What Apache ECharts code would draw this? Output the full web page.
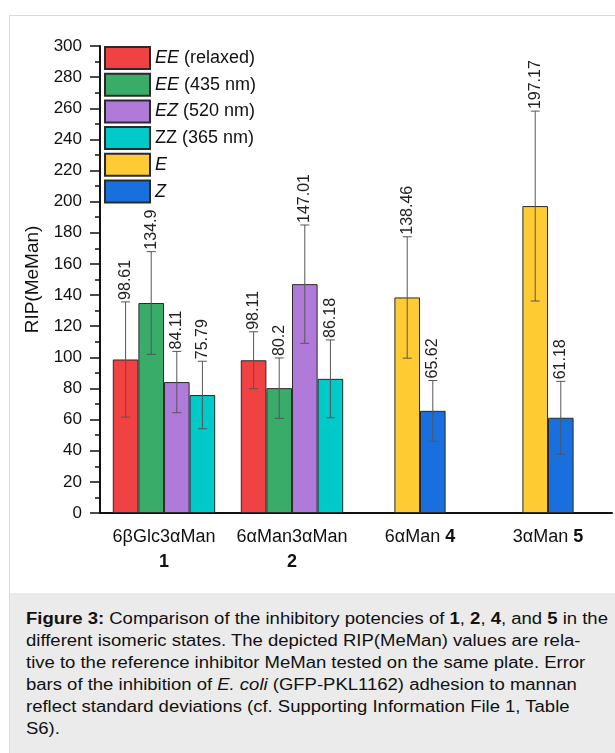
<!DOCTYPE html>
<html><head><meta charset="utf-8">
<script src="https://cdn.jsdelivr.net/npm/echarts@6/dist/echarts.min.js"></script>
<style>
html,body{margin:0;padding:0;background:#fff;}
#frame{position:absolute;left:9px;top:15px;width:620px;height:740px;border:1px solid #dadada;box-sizing:border-box;}
#cap{position:absolute;left:10px;top:593px;width:615px;height:160px;background:#ebebeb;}
#capText{position:absolute;left:16px;top:15px;font-family:"Liberation Sans",Arial,sans-serif;font-size:16px;line-height:22px;color:#111;white-space:nowrap;transform:scaleX(1.156);transform-origin:0 0;}
#chart{position:absolute;left:0;top:0;width:615px;height:593px;}
</style></head>
<body>
<div id="frame"></div>
<div id="cap"><div id="capText"><b>Figure 3:</b> Comparison of the inhibitory potencies of <b>1</b>, <b>2</b>, <b>4</b>, and <b>5</b> in the<br>different isomeric states. The depicted RIP(MeMan) values are rela-<br>tive to the reference inhibitor MeMan tested on the same plate. Error<br>bars of the inhibition of <i>E. coli</i> (GFP-PKL1162) adhesion to mannan<br>reflect standard deviations (cf. Supporting Information File 1, Table<br>S6).</div></div>
<div id="chart"></div>
<script>
// ---- data ----
const categories = ['6βGlc3αMan', '6αMan3αMan', '6αMan', '3αMan'];
const compoundNums = ['1', '2', '4', '5'];
const yTicks = [0, 20, 40, 60, 80, 100, 120, 140, 160, 180, 200, 220, 240, 260, 280, 300];
const seriesNames = ['EE (relaxed)', 'EE (435 nm)', 'EZ (520 nm)', 'ZZ (365 nm)', 'E', 'Z'];
const eeRelaxed = [98.61, 98.11, null, null];
const ee435 = [134.9, 80.2, null, null];
const ez520 = [84.11, 147.01, null, null];
const zz365 = [75.79, 86.18, null, null];
const eState = [null, null, 138.46, 197.17];
const zState = [null, null, 65.62, 61.18];
const eeRelaxedSD = [37, 18.3, null, null];
const ee435SD = [33, 19.4, null, null];
const ez520SD = [19.7, 38, null, null];
const zz365SD = [21.7, 25, null, null];
const eStateSD = [null, null, 39, 61];
const zStateSD = [null, null, 19.5, 23.4];

const colors = ['#f04242', '#3aac6a', '#b07adb', '#00c9c9', '#fecb33', '#1a6fde'];
const FONT = '"Liberation Sans", Arial, sans-serif';

const groupA = [eeRelaxed, ee435, ez520, zz365];
const groupASD = [eeRelaxedSD, ee435SD, ez520SD, zz365SD];
const groupB = [eState, zState];
const groupBSD = [eStateSD, zStateSD];

const errData = [];
function addErr(vals, sds, slot, n) {
  vals.forEach((v, c) => {
    if (v == null) return;
    errData.push([c, v - sds[c], v + sds[c], v, slot, n]);
  });
}
groupA.forEach((s, i) => addErr(s, groupASD[i], i, 4));
groupB.forEach((s, i) => addErr(s, groupBSD[i], i, 2));

const italicParts = { 'EE (relaxed)': ['EE', ' (relaxed)'], 'EE (435 nm)': ['EE', ' (435 nm)'],
  'EZ (520 nm)': ['EZ', ' (520 nm)'], 'E': ['E', ''], 'Z': ['Z', ''] };

const series = [];
seriesNames.forEach((name, i) => {
  const isA = i < 4;
  series.push({
    name: name, type: 'bar',
    xAxisIndex: isA ? 0 : 1,
    data: isA ? groupA[i] : groupB[i - 4],
    barWidth: '20%', barGap: '0%',
    itemStyle: { color: colors[i], borderColor: '#2a2a2a', borderWidth: 1 },
    emphasis: { disabled: true }
  });
});
series.push({
  type: 'custom', xAxisIndex: 0, yAxisIndex: 0, data: errData, z: 10,
  silent: true,
  renderItem: function (params, api) {
    const c = api.value(0), lo = api.value(1), hi = api.value(2), v = api.value(3);
    const slot = api.value(4), n = api.value(5);
    const bw = api.size([1, 0])[0] * 0.2;
    const cx = api.coord([c, 0])[0] + (slot - (n - 1) / 2) * bw;
    const yl = api.coord([c, lo])[1], yh = api.coord([c, hi])[1];
    const cap = 4.5;
    const ls = { stroke: '#555', lineWidth: 1 };
    return { type: 'group', children: [
      { type: 'line', shape: { x1: cx, y1: yl, x2: cx, y2: yh }, style: ls },
      { type: 'line', shape: { x1: cx - cap, y1: yl, x2: cx + cap, y2: yl }, style: ls },
      { type: 'line', shape: { x1: cx - cap, y1: yh, x2: cx + cap, y2: yh }, style: ls },
      { type: 'text', x: cx, y: yh - 2, rotation: Math.PI / 2,
        style: { text: String(v), align: 'left', verticalAlign: 'middle', fontSize: 16, fontFamily: FONT, fill: '#222' } }
    ]};
  }
});

const chart = echarts.init(document.getElementById('chart'), null, { renderer: 'canvas' });
chart.setOption({
  animation: false,
  textStyle: { fontFamily: FONT },
  grid: { left: 100, right: 3, top: 46, bottom: 80, containLabel: false },
  legend: {
    orient: 'vertical', left: 104, top: 46, padding: 0, itemWidth: 45, itemHeight: 22, itemGap: 2.7,
    icon: 'rect',
    data: seriesNames, selectedMode: false,
    formatter: function (name) {
      const p = italicParts[name];
      if (!p) return name;
      return '{i|' + p[0] + '}' + p[1];
    },
    textStyle: { fontSize: 18, color: '#111', fontFamily: FONT,
      rich: { i: { fontStyle: 'italic', fontSize: 18, color: '#111', fontFamily: FONT } } }
  },
  xAxis: [{
    type: 'category', data: categories, position: 'bottom',
    axisLine: { lineStyle: { color: '#111', width: 2 } },
    axisTick: { alignWithLabel: true, length: 8, lineStyle: { color: '#111', width: 2 } },
    axisLabel: { margin: 12, interval: 0, fontSize: 18, color: '#111', fontFamily: FONT,
      formatter: function (val, idx) {
        const num = compoundNums[idx];
        if (idx < 2) return '{n|' + val + '}\n{b|' + num + '}';
        return '{n|' + val + ' }{b|' + num + '}';
      },
      rich: { n: { fontSize: 18, color: '#111', fontFamily: FONT, lineHeight: 25 },
              b: { fontSize: 18, fontWeight: 'bold', color: '#111', fontFamily: FONT, lineHeight: 25 } } },
    splitLine: { show: false }
  }, {
    type: 'category', data: categories, position: 'bottom', show: false
  }],
  yAxis: {
    type: 'value', min: 0, max: 300, interval: 20,
    name: 'RIP(MeMan)', nameLocation: 'middle', nameGap: 55,
    nameTextStyle: { fontSize: 19, color: '#111', fontFamily: FONT },
    axisLine: { show: true, lineStyle: { color: '#111', width: 2 } },
    axisTick: { show: true, length: 10, lineStyle: { color: '#111', width: 1.5 } },
    minorTick: { show: true, splitNumber: 2, length: 5, lineStyle: { color: '#111', width: 1.5 } },
    axisLabel: { fontSize: 17, color: '#111', margin: 18, fontFamily: FONT,
      formatter: function (v) { return yTicks.indexOf(v) >= 0 ? String(v) : ''; } },
    splitLine: { show: false }
  },
  series: series
});
</script>
</body></html>
